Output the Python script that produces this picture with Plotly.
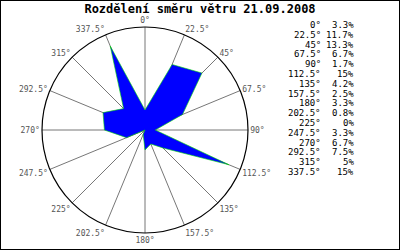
import plotly.graph_objects as go

title_text = "Rozdělení směru větru 21.09.2008"
directions = [0, 22.5, 45, 67.5, 90, 112.5, 135, 157.5, 180, 202.5, 225, 247.5, 270, 292.5, 315, 337.5]
dir_labels = ["0", "22.5", "45", "67.5", "90", "112.5", "135", "157.5", "180", "202.5", "225", "247.5", "270", "292.5", "315", "337.5"]
values = [3.3, 11.7, 13.3, 6.7, 1.7, 15, 4.2, 2.5, 3.3, 0.8, 0, 3.3, 6.7, 7.5, 5, 15]

W, H = 400, 250
cx, cy, R = 145, 130, 103
MONO = "DejaVu Sans Mono"

fig = go.Figure()
fig.add_trace(go.Scatterpolar(
    r=values + values[:1],
    theta=directions + directions[:1],
    mode="lines",
    fill="toself",
    fillcolor="#0000ff",
    line=dict(color="#00dd00", width=0.6),
    hoverinfo="skip",
))

fig.update_layout(
    width=W, height=H,
    margin=dict(l=0, r=0, t=0, b=0),
    paper_bgcolor="white",
    showlegend=False,
    polar=dict(
        domain=dict(x=[(cx - R) / W, (cx + R) / W], y=[(H - cy - R) / H, (H - cy + R) / H]),
        bgcolor="white",
        radialaxis=dict(range=[0, 17], visible=False, showgrid=False),
        angularaxis=dict(
            rotation=90, direction="clockwise",
            tickmode="array", tickvals=directions,
            ticktext=[d + "°" for d in dir_labels],
            tickfont=dict(family=MONO, size=8, color="#555555"),
            showgrid=True, gridcolor="#777777", gridwidth=1,
            showline=True, linecolor="black", linewidth=1.2,
            ticks="",
        ),
    ),
    title=dict(
        text=title_text, x=0.5, xanchor="center",
        y=1 - 9 / H, yanchor="middle", yref="container",
        font=dict(family=MONO, size=12, color="black", weight="bold"),
    ),
)

row0, step = 25, 9.8
for i, (d, v) in enumerate(zip(dir_labels, values)):
    yy = 1 - (row0 + step * i) / H
    fig.add_annotation(x=323 / W, y=yy, xref="paper", yref="paper",
                       text=d + "°", showarrow=False, xanchor="right", yanchor="middle",
                       font=dict(family=MONO, size=9, color="black"))
    fig.add_annotation(x=356 / W, y=yy, xref="paper", yref="paper",
                       text=f"{v:g}%", showarrow=False, xanchor="right", yanchor="middle",
                       font=dict(family=MONO, size=9, color="black"))

fig.add_shape(type="rect", xref="paper", yref="paper", x0=0, y0=0, x1=1, y1=1,
              line=dict(color="black", width=2))

fig.write_html("out.html")
